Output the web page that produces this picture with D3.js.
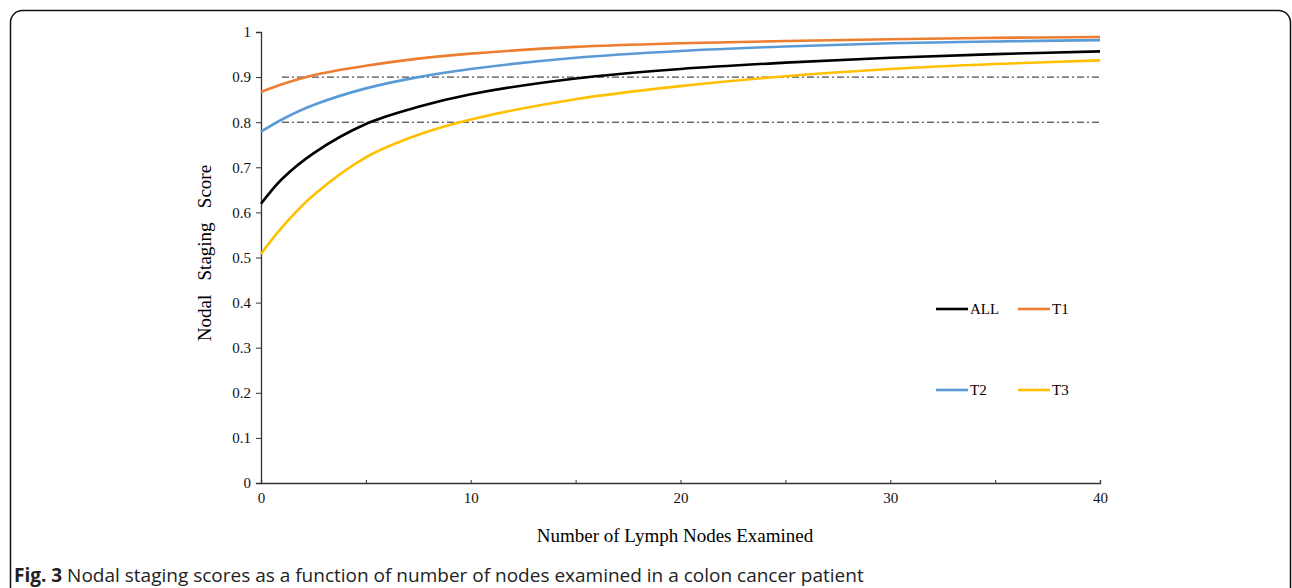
<!DOCTYPE html>
<html>
<head>
<meta charset="utf-8">
<script src="https://cdn.jsdelivr.net/npm/d3@7"></script>
<style>
	body { margin: 0; background: #fff; }
	svg { display: block; }
	.axis path, .axis line { stroke: #333; }
	.axis text { font-family: "Liberation Serif", serif; font-size: 15px; fill: #111; }
</style>
</head>
<body>
<svg id="chart" width="1292" height="588"></svg>
<script>

// values
let nodes = [0, 1, 2.5, 5, 7.5, 10, 15, 20, 25, 30, 35, 40];
let scoreAll = [0.619, 0.674, 0.731, 0.796, 0.834, 0.862, 0.897, 0.918, 0.932, 0.943, 0.951, 0.957];
let scoreT1  = [0.867, 0.884, 0.904, 0.925, 0.941, 0.952, 0.967, 0.975, 0.980, 0.984, 0.987, 0.989];
let scoreT2  = [0.779, 0.806, 0.838, 0.875, 0.900, 0.918, 0.943, 0.958, 0.968, 0.975, 0.979, 0.982];
let scoreT3  = [0.508, 0.567, 0.638, 0.722, 0.772, 0.806, 0.851, 0.880, 0.902, 0.918, 0.929, 0.937];
let refLevels = [0.8, 0.9];
let refStart = 1;
let yTicks = [0, 0.1, 0.2, 0.3, 0.4, 0.5, 0.6, 0.7, 0.8, 0.9, 1];
let xTicks = [0, 5, 10, 15, 20, 25, 30, 35, 40];
let xLabels = [0, 10, 20, 30, 40];

let colors = { "ALL": "#000000", "T1": "#ED7D31", "T2": "#5B9BD5", "T3": "#FFC000" };

let svg = d3.select("#chart");

// rounded frame of the figure panel
svg.append("rect")
	.attr("x", 10.5).attr("y", 10.5)
	.attr("width", 1280).attr("height", 620)
	.attr("rx", 12)
	.attr("fill", "none")
	.attr("stroke", "#111")
	.attr("stroke-width", 1.5);

let margin = { top: 32, left: 261 };
let width = 1100 - 261;
let height = 483 - 32;

let x = d3.scaleLinear().domain([0, 40]).range([0, width]);
let y = d3.scaleLinear().domain([0, 1]).range([height, 0]);

let g = svg.append("g")
	.attr("transform", "translate(" + margin.left + "," + margin.top + ")");

// x axis, ticks point up, labels only every 10
let xAxis = g.append("g")
	.attr("class", "axis axis--x")
	.attr("transform", "translate(0," + height + ")")
	.call(d3.axisBottom(x).tickValues(xTicks).tickSizeInner(-3).tickSizeOuter(-3)
		.tickFormat(function (d) { return xLabels.indexOf(d) >= 0 ? d : ""; }));
xAxis.selectAll("text").attr("y", 9).attr("dy", "0.71em");
xAxis.select(".domain").attr("stroke-width", 1.3);

let yAxis = g.append("g")
	.attr("class", "axis axis--y")
	.call(d3.axisLeft(y).tickValues(yTicks).tickSizeInner(5).tickSizeOuter(5)
		.tickFormat(function (d) { return d3.format("~g")(d); }));
yAxis.selectAll("text").attr("x", -10);
yAxis.select(".domain").attr("stroke-width", 1.3);

// dash-dot reference lines
g.selectAll(".refline")
	.data(refLevels)
	.enter()
	.append("line")
	.attr("class", "refline")
	.attr("x1", x(refStart)).attr("x2", x(40))
	.attr("y1", function (d) { return y(d); })
	.attr("y2", function (d) { return y(d); })
	.attr("stroke", "#222")
	.attr("stroke-width", 1)
	.attr("stroke-dasharray", "7,3,2,3");

let series = [
	{ name: "ALL", values: scoreAll },
	{ name: "T1", values: scoreT1 },
	{ name: "T2", values: scoreT2 },
	{ name: "T3", values: scoreT3 }
];

let line = d3.line()
	.x(function (d, i) { return x(nodes[i]); })
	.y(function (d) { return y(d); })
	.curve(d3.curveCatmullRom.alpha(0.5));

// draw order: T3, ALL, T2, T1
g.selectAll(".series")
	.data([series[3], series[0], series[2], series[1]])
	.enter()
	.append("path")
	.attr("class", "series")
	.attr("fill", "none")
	.attr("stroke", function (d) { return colors[d.name]; })
	.attr("stroke-width", 2.6)
	.attr("d", function (d) { return line(d.values); });

// legend
let legendPos = [
	{ name: "ALL", lx: 936, ly: 309 },
	{ name: "T1", lx: 1018, ly: 309 },
	{ name: "T2", lx: 936, ly: 390 },
	{ name: "T3", lx: 1018, ly: 390 }
];
let legend = svg.selectAll(".legend")
	.data(legendPos)
	.enter()
	.append("g")
	.attr("class", "legend")
	.attr("transform", function (d) { return "translate(" + d.lx + "," + d.ly + ")"; });
legend.append("line")
	.attr("x1", 0).attr("x2", 32)
	.attr("stroke", function (d) { return colors[d.name]; })
	.attr("stroke-width", 2.6);
legend.append("text")
	.attr("x", 34).attr("dy", "0.35em")
	.style("font-family", "Liberation Serif, serif")
	.style("font-size", "15px")
	.text(function (d) { return d.name; });

// axis titles
svg.append("text")
	.attr("x", 675).attr("y", 542)
	.attr("text-anchor", "middle")
	.style("font-family", "Liberation Serif, serif")
	.style("font-size", "19px")
	.text("Number of Lymph Nodes Examined");

svg.append("text")
	.attr("transform", "translate(211,253) rotate(-90)")
	.attr("text-anchor", "middle")
	.style("font-family", "Liberation Serif, serif")
	.style("font-size", "19px")
	.style("white-space", "pre")
	.text("Nodal   Staging   Score");

// caption
let caption = svg.append("text")
	.attr("x", 14).attr("y", 582)
	.style("font-family", "Open Sans, sans-serif")
	.style("font-size", "19px")
	.attr("fill", "#222");
caption.append("tspan").style("font-weight", "bold").text("Fig. 3");
caption.append("tspan").text(" Nodal staging scores as a function of number of nodes examined in a colon cancer patient");

</script>
</body>
</html>
